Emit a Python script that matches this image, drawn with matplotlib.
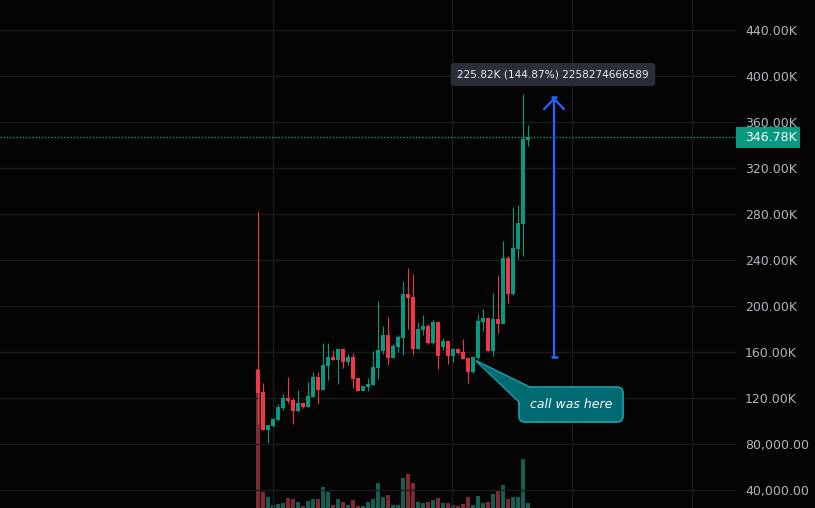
import matplotlib
matplotlib.use("Agg")
import matplotlib.pyplot as plt
import matplotlib.transforms as mtransforms
from matplotlib.patches import FancyBboxPatch, Polygon, Rectangle
from matplotlib.ticker import FuncFormatter

# daily candles, prices in K
opens = [144.3, 125.2, 92.2, 95.7, 100.9, 111.3, 120.0, 118.3, 108.7, 115.7,
         112.2, 121.0, 138.3, 127.0, 147.8, 155.7, 153.0, 162.6, 151.3, 155.7,
         137.4, 126.1, 129.6, 131.3, 146.0, 160.9, 174.8, 154.8, 164.3, 172.2,
         210.4, 207.8, 162.6, 179.1, 182.6, 167.8, 186.0, 164.3, 169.6, 156.5,
         162.6, 160.0, 154.8, 142.6, 154.8, 186.0, 189.6, 160.9, 188.7, 184.3,
         241.7, 210.4, 249.6, 271.3, 344.3]
highs = [282.6, 133.0, 96.5, 102.4, 114.8, 123.5, 138.3, 120.0, 127.0, 116.0,
         133.9, 142.6, 142.6, 167.8, 167.8, 161.7, 163.0, 163.5, 158.3, 159.1,
         137.4, 130.4, 137.4, 160.9, 204.3, 182.6, 190.4, 167.0, 174.8, 221.7,
         233.0, 227.8, 186.0, 192.2, 184.3, 187.8, 187.0, 172.2, 169.6, 163.5,
         163.5, 171.3, 154.8, 155.7, 193.0, 197.4, 189.6, 211.3, 227.0, 256.5,
         243.5, 286.0, 287.8, 384.3, 357.4]
lows = [97.4, 92.0, 80.6, 94.8, 100.5, 109.6, 115.7, 97.4, 108.0, 111.3,
        112.0, 121.0, 114.8, 127.0, 135.7, 153.0, 132.2, 146.0, 148.7, 128.7,
        126.0, 126.1, 126.1, 131.0, 136.5, 158.3, 148.7, 154.8, 160.0, 157.4,
        180.0, 157.4, 162.6, 174.8, 167.0, 167.0, 145.2, 161.7, 149.6, 151.3,
        158.3, 153.9, 133.0, 141.7, 154.0, 178.3, 160.9, 156.5, 176.5, 184.0,
        202.6, 210.0, 240.9, 243.5, 339.1]
closes = [124.6, 92.2, 96.5, 101.7, 112.2, 120.0, 117.4, 108.7, 115.7, 112.2,
          121.7, 138.3, 127.0, 148.7, 155.7, 153.0, 162.6, 151.3, 155.7, 136.5,
          126.1, 130.4, 132.2, 147.0, 161.7, 174.8, 154.8, 165.2, 173.0, 210.4,
          207.0, 162.6, 180.0, 182.6, 167.8, 186.0, 156.5, 169.6, 156.5, 162.6,
          159.1, 153.9, 142.6, 155.7, 187.0, 189.6, 160.9, 188.7, 184.3, 241.7,
          210.4, 250.4, 272.2, 345.2, 346.78]
volumes = [139, 16, 11, 3, 4, 5, 10, 9, 6, 2, 7, 9, 9, 21, 16, 3, 9, 6, 3, 8,
           2, 2, 6, 9, 25, 11, 13, 3, 3, 30, 34, 25, 6, 5, 6, 8, 10, 5, 5, 3,
           2, 4, 11, 3, 12, 5, 6, 14, 17, 23, 9, 11, 11, 49, 5]
bars = list(range(1, len(closes) + 1))

price_ticks = [40, 80, 120, 160, 200, 240, 280, 320, 360, 400, 440]
time_grid = [4, 39.8, 63.8, 87.8]

last_price = closes[-1]
measure_x = 60.2
measure_from = 155.88
measure_to = 381.70
measure_label = "225.82K (144.87%) 2258274666589"
call_x = 44.6
call_price = 152.4
call_text = "call was here"

GREEN = "#089981"
RED = "#F23645"
BG = "#040404"
GRID = "#1b1b1b"

fig = plt.figure(figsize=(8.15, 5.08), dpi=100)
fig.patch.set_facecolor(BG)
rect = [0, 0, 736 / 815, 1]

# volume underneath
axv = fig.add_axes(rect)
axv.set_facecolor(BG)
vcol = ["#155E53" if c >= o else "#7E2A33" for o, c in zip(opens, closes)]
axv.bar(bars, volumes, width=0.62, color=vcol, linewidth=0)
axv.set_ylim(0, max(volumes) * 508 / 139)
axv.set_xlim(-50.6, 96.6)
axv.axis("off")

ax = fig.add_axes(rect)
ax.patch.set_visible(False)
ax.set_xlim(-50.6, 96.6)
ax.set_ylim(24.35, 466.1)
for s in ax.spines.values():
    s.set_visible(False)

ax.set_xticks(time_grid)
ax.set_xticklabels([])
ax.tick_params(axis="x", length=0)
ax.set_yticks(price_ticks)
ax.yaxis.tick_right()
ax.yaxis.set_major_formatter(FuncFormatter(
    lambda v, p: f"{v:.2f}K" if v >= 100 else f"{v * 1000:,.2f}"))
ax.tick_params(axis="y", length=0, pad=6.5, labelsize=9, labelcolor="#B2B5BE")
ax.grid(True, color=GRID, linewidth=1)
ax.set_axisbelow(True)

# candles
ccol = [GREEN if c >= o else RED for o, c in zip(opens, closes)]
ax.vlines(bars, lows, highs, colors=ccol, linewidth=0.8, zorder=3)
ax.bar(bars, [c - o for o, c in zip(opens, closes)], bottom=opens,
       width=0.62, color=ccol, linewidth=0, zorder=4)

# last price line and label
ax.axhline(last_price, color=GREEN, linewidth=1.0, linestyle=(0, (1, 1.3)), zorder=2)
bt = mtransforms.blended_transform_factory(fig.transFigure, ax.transData)
ax.add_patch(Rectangle((736 / 815, last_price - 9.0), 64 / 815, 18.0,
                       transform=bt, facecolor=GREEN, edgecolor="none",
                       clip_on=False, zorder=10))
ax.text(745.5 / 815, last_price, f"{last_price:.2f}K", transform=bt,
        color="white", fontsize=9, va="center", ha="left", zorder=11, clip_on=False)

# measurement arrow
ax.annotate("", xy=(measure_x, measure_to), xytext=(measure_x, measure_from),
            arrowprops=dict(arrowstyle="->,head_length=0.38,head_width=0.36",
                            color="#2962FF", lw=1.6, shrinkA=0, shrinkB=0,
                            mutation_scale=20), zorder=6)
ax.plot([measure_x - 0.7, measure_x + 0.7], [measure_from, measure_from],
        color="#2962FF", lw=1.8, zorder=6, solid_capstyle="butt")
ax.plot([measure_x - 0.6, measure_x + 0.6], [measure_to, measure_to],
        color="#2962FF", lw=1.8, zorder=6, solid_capstyle="butt")
ax.annotate(measure_label, xy=(measure_x, measure_to), xytext=(-1, 22.5),
            textcoords="offset pixels", ha="center", va="center",
            fontsize=7.6, color="#E8EAF0", zorder=7,
            bbox=dict(boxstyle="round,pad=0.62,rounding_size=0.35",
                      facecolor="#2A2E39", edgecolor="none"))

# callout
fig.canvas.draw()
tip = ax.transData.transform((call_x, call_price))
ct = mtransforms.Affine2D().translate(tip[0], tip[1])
fill = "#006A73"
edge = "#1B9AA4"
ptr = [(0, 0), (56, -27.5), (44, -42)]
ax.add_patch(Polygon(ptr, closed=True, transform=ct, facecolor=fill,
                     edgecolor=edge, linewidth=1.3, zorder=8, clip_on=False))
ax.add_patch(FancyBboxPatch((43, -61.3), 104, 35, boxstyle="round,pad=0,rounding_size=6",
                            transform=ct, facecolor=fill, edgecolor=edge,
                            linewidth=1.3, zorder=8, clip_on=False))
ax.add_patch(Polygon([(2, -1.5), (57, -29), (45, -42)], closed=True, transform=ct,
                     facecolor=fill, edgecolor="none", zorder=8.5, clip_on=False))
ax.text(95.5, -43.8, call_text, transform=ct, ha="center", va="center",
        fontsize=9, style="italic", color="white", zorder=9)

fig.savefig("out.png", dpi=100, facecolor=BG)
